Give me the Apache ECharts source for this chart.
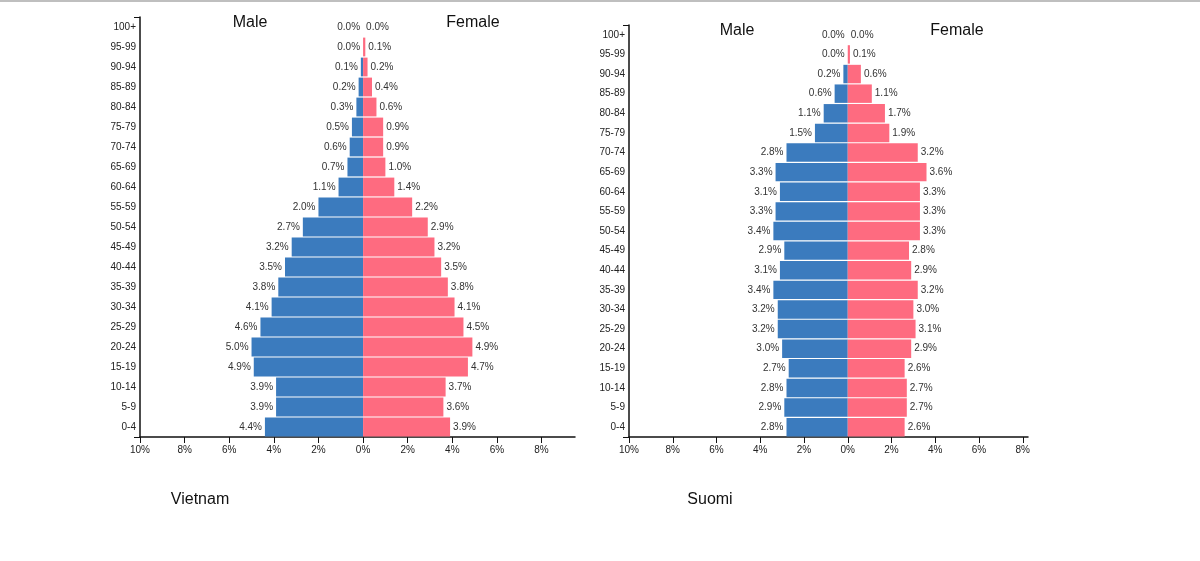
<!DOCTYPE html>
<html>
<head>
<meta charset="utf-8">
<script src="https://cdn.jsdelivr.net/npm/echarts@6/dist/echarts.min.js"></script>
<style>
html,body{margin:0;padding:0;background:#fff;}
#chart{width:1200px;height:561px;}
</style>
</head>
<body>
<div id="chart"></div>
<script>
//年龄段 (下到上)
var ageGroups = ['0-4','5-9','10-14','15-19','20-24','25-29','30-34','35-39','40-44','45-49','50-54','55-59','60-64','65-69','70-74','75-79','80-84','85-89','90-94','95-99','100+'];
//Vietnam
var vnMale   = [4.4,3.9,3.9,4.9,5.0,4.6,4.1,3.8,3.5,3.2,2.7,2.0,1.1,0.7,0.6,0.5,0.3,0.2,0.1,0.0,0.0];
var vnFemale = [3.9,3.6,3.7,4.7,4.9,4.5,4.1,3.8,3.5,3.2,2.9,2.2,1.4,1.0,0.9,0.9,0.6,0.4,0.2,0.1,0.0];
//Suomi
var fiMale   = [2.8,2.9,2.8,2.7,3.0,3.2,3.2,3.4,3.1,2.9,3.4,3.3,3.1,3.3,2.8,1.5,1.1,0.6,0.2,0.0,0.0];
var fiFemale = [2.6,2.7,2.7,2.6,2.9,3.1,3.0,3.2,2.9,2.8,3.3,3.3,3.3,3.6,3.2,1.9,1.7,1.1,0.6,0.1,0.0];

var FONT = '"Liberation Sans", Arial, sans-serif';
var BLUE = '#3b7bbe';
var PINK = '#fe6b80';

function neg(arr){
	return arr.map(function(v){ return -v; });
}
function pct(v){
	return Math.abs(v).toFixed(1) + '%';
}

function makeX(idx, max){
	return {
		type:'value', gridIndex:idx, min:-10, max:max, interval:2,
		axisLine:{show:true, onZero:false, lineStyle:{color:'#111', width:1.5}},
		axisTick:{show:true, length:6, lineStyle:{color:'#111', width:1}},
		axisLabel:{
			fontSize:10, color:'#222', fontFamily:FONT, margin:8,
			showMaxLabel:false,
			formatter:function(v){ return Math.abs(v) + '%'; }
		},
		splitLine:{show:false}
	};
}
function makeY(idx){
	return {
		type:'category', gridIndex:idx, data:ageGroups,
		axisLine:{show:true, onZero:false, lineStyle:{color:'#111', width:1.5}},
		axisTick:{show:true, length:6, interval:function(i){ return i === ageGroups.length - 1; }, lineStyle:{color:'#111'}},
		axisLabel:{fontSize:10, color:'#222', fontFamily:FONT, margin:4},
		splitLine:{show:false}
	};
}
function makeBars(idx, male, female){
	return [{
		type:'bar', xAxisIndex:idx, yAxisIndex:idx, data:neg(male),
		barCategoryGap:'6%', barGap:'-100%',
		itemStyle:{color:BLUE},
		label:{show:true, position:'left', distance:3, fontSize:10, color:'#333', fontFamily:FONT,
			formatter:function(p){ return pct(p.value); }}
	},{
		type:'bar', xAxisIndex:idx, yAxisIndex:idx, data:female,
		barCategoryGap:'6%', barGap:'-100%',
		itemStyle:{color:PINK},
		label:{show:true, position:'right', distance:3, fontSize:10, color:'#333', fontFamily:FONT,
			formatter:function(p){ return pct(p.value); }}
	}];
}
function txt(x, y, s){
	return {type:'text', x:x, y:y, style:{text:s, fill:'#111', font:'16px ' + FONT, align:'center', verticalAlign:'middle'}};
}

var myChart = echarts.init(document.getElementById('chart'));
var option = {
	backgroundColor:'#fff',
	animation:false,
	grid:[
		{left:140, top:17, width:435, height:420},
		{left:629, top:25, width:399, height:412}
	],
	xAxis:[makeX(0, 9.5), makeX(1, 8.24)],
	yAxis:[makeY(0), makeY(1)],
	series:makeBars(0, vnMale, vnFemale).concat(makeBars(1, fiMale, fiFemale)),
	graphic:[
		{type:'line', shape:{x1:0, y1:1, x2:1200, y2:1}, style:{stroke:'#aaa', lineWidth:1.5}},
		txt(250, 23, 'Male'),
		txt(473, 23, 'Female'),
		txt(737, 31, 'Male'),
		txt(957, 31, 'Female'),
		txt(200, 500, 'Vietnam'),
		txt(710, 500, 'Suomi')
	]
};
myChart.setOption(option);
</script>
</body>
</html>
